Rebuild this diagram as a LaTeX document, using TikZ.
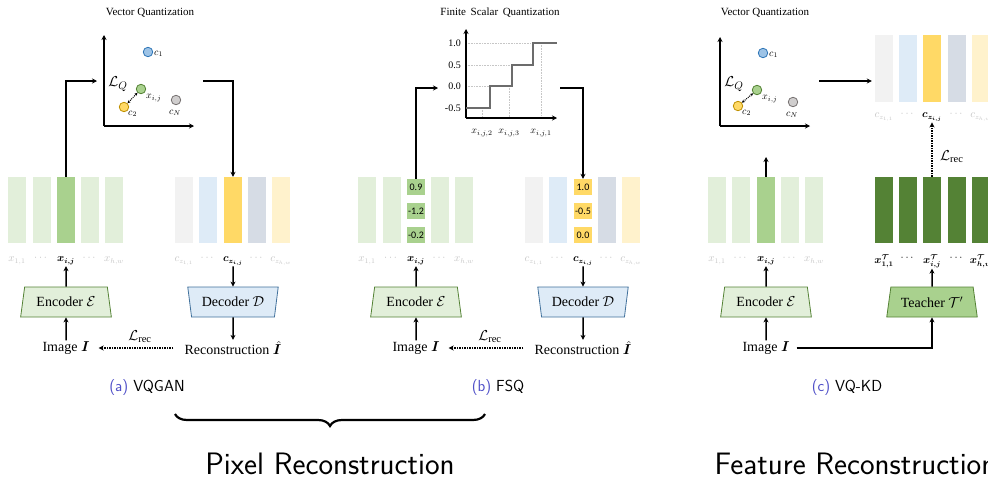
\documentclass[tikz,border=0pt]{standalone}
\usepackage{amsmath,bm}
\usepackage{fontspec}
\setmainfont{Liberation Serif}
\newfontfamily\numfont{Carlito}
\usetikzlibrary{arrows.meta,shapes.geometric,decorations.pathreplacing}
\definecolor{lgreen}{HTML}{E2EFDA}
\definecolor{mgreen}{HTML}{A9D18E}
\definecolor{dgreen}{HTML}{548235}
\definecolor{lgrayc}{HTML}{F2F2F2}
\definecolor{lbluec}{HTML}{DEEBF7}
\definecolor{yellowc}{HTML}{FFD966}
\definecolor{gbluec}{HTML}{D6DCE5}
\definecolor{lyellowc}{HTML}{FFF2CC}
\definecolor{decdraw}{HTML}{41719C}
\definecolor{lablight}{HTML}{C4C4C4}
\definecolor{capblue}{HTML}{5050C8}
\definecolor{cblue}{HTML}{9DC3E6}
\definecolor{cbluedk}{HTML}{2E75B6}
\definecolor{cyeldk}{HTML}{BF9000}
\definecolor{cgray}{HTML}{D0CECE}
\definecolor{cgraydk}{HTML}{767171}
\begin{document}
\begin{tikzpicture}[x=1pt,y=-1pt,
  arr/.style={line width=1.5pt,-{Stealth[length=5pt,width=5pt]}},
  axisline/.style={line width=1.5pt,-{Stealth[length=5pt,width=5pt]}},
  bar/.style={rectangle,minimum width=18pt,minimum height=66pt,inner sep=0pt},
  numbox/.style={rectangle,minimum width=18pt,minimum height=16pt,inner sep=0pt,fill=#1,font=\numfont\fontsize{10}{11}\selectfont},
  lbl/.style={font=\fontsize{10.5}{11}\selectfont,text=lablight,inner sep=1pt},
  lbldk/.style={font=\fontsize{10.5}{11}\selectfont,text=black,inner sep=1pt},
  enc/.style={trapezium,trapezium stretches=true,trapezium left angle=74,trapezium right angle=74,minimum width=91pt,minimum height=30pt,inner sep=0pt,line width=0.8pt,font=\fontsize{14}{16}\selectfont},
  dec/.style={enc,shape border rotate=180},
  io/.style={font=\fontsize{14}{16}\selectfont,inner sep=1pt},
  pt/.style={circle,minimum size=9.5pt,inner sep=0pt,line width=0.8pt},
  ptl/.style={font=\fontsize{10}{11}\selectfont,inner sep=0pt},
  ttl/.style={font=\fontsize{11}{13}\selectfont},
  loss/.style={font=\fontsize{15}{17}\selectfont,inner sep=0pt},
  capt/.style={font=\sffamily\fontsize{16}{18}\selectfont},
  bigtxt/.style={font=\sffamily\fontsize{31}{34}\selectfont},
  gridln/.style={densely dotted,draw=gray!45,line width=0.6pt},
  dotarr/.style={densely dotted,line width=1.5pt,-{Stealth[length=5pt,width=5pt]}}
]
\useasboundingbox (0,0) rectangle (988,477);

% ================= Panel (a) =================
\node[ttl] (atitle) at (150,13) {Vector Quantization};
\coordinate (aO) at (104,126);
\coordinate (aY) at (104,35);
\coordinate (aX) at (194,126);
\draw[axisline] (aO) -- (aY);
\draw[axisline] (aO) -- (aX);
\node[pt,fill=cblue,draw=cbluedk] (ac1) at (148,52) {};
\node[ptl,anchor=west] (ac1l) at (154,54) {$c_1$};
\node[pt,fill=mgreen,draw=dgreen] (axp) at (141,89) {};
\node[ptl,anchor=west] (axpl) at (146,98) {$x_{i,j}$};
\node[pt,fill=yellowc,draw=cyeldk] (ac2) at (124,107) {};
\node[ptl,anchor=west] (ac2l) at (128,114) {$c_2$};
\node[pt,fill=cgray,draw=cgraydk] (acN) at (176,100) {};
\node[ptl] (acNl) at (175,113) {$c_N$};
\node[loss] (aLQ) at (118,84) {$\mathcal{L}_Q$};
\draw[densely dotted,line width=1pt,{Stealth[length=3pt,width=3pt]}-{Stealth[length=3pt,width=3pt]}] (axp) -- (ac2);

\foreach \i/\x/\c in {1/17/lgreen,2/41.5/lgreen,3/66/mgreen,4/90/lgreen,5/114/lgreen}
  \node[bar,fill=\c] (ae\i) at (\x,210) {};
\foreach \i/\x/\c in {1/184/lgrayc,2/208/lbluec,3/233/yellowc,4/257/gbluec,5/281/lyellowc}
  \node[bar,fill=\c] (ad\i) at (\x,210) {};
\node[lbl] (ael1) at (17,261) {$x_{1,1}$};
\node[lbl] (ael2) at (41.5,258) {$\cdots$};
\node[lbldk] (ael3) at (66,261) {$\bm{x_{i,j}}$};
\node[lbl] (ael4) at (90,258) {$\cdots$};
\node[lbl] (ael5) at (114,261) {$x_{h,w}$};
\node[lbl] (adl1) at (184,261) {$c_{z_{1,1}}$};
\node[lbl] (adl2) at (208,258) {$\cdots$};
\node[lbldk] (adl3) at (233,261) {$\bm{c_{z_{i,j}}}$};
\node[lbl] (adl4) at (257,258) {$\cdots$};
\node[lbl] (adl5) at (281,261) {$c_{z_{h,w}}$};

\node[enc,fill=lgreen,draw=dgreen] (aenc) at (66,302) {Encoder $\mathcal{E}$};
\node[dec,fill=lbluec,draw=decdraw] (adec) at (233,302) {Decoder $\mathcal{D}$};
\node[io] (aimg) at (66,348) {Image $\bm{I}$};
\node[io] (arec) at (233,348) {Reconstruction $\hat{\bm{I}}$};

\coordinate (aL) at (97,81);
\coordinate (aR) at (203,81);
\draw[arr] (ae3.north) |- (aL);
\draw[arr] (aR) -| (ad3.north);
\draw[arr] (aenc.north) -- (ael3.south);
\draw[arr] (aimg.north) -- (aenc.south);
\draw[arr] (adl3.south) -- (adec.north);
\draw[arr] (adec.south) -- (arec.north);
\draw[dotarr] ([xshift=-10pt]arec.west) -- ([xshift=8pt]aimg.east);
\node[loss] (aLrec) at (140,337) {$\mathcal{L}_{\mathrm{rec}}$};
\node[capt] (acap) at (147,388) {\textcolor{capblue}{(a)} VQGAN};

% ================= Panel (b) =================
\node[ttl] (btitle) at (500,13) {Finite\, Scalar\, Quantization};
\coordinate (bO) at (466,118);
\coordinate (bY) at (466,29);
\coordinate (bX) at (557,118);
\draw[gridln] (466,43) -- (533,43);
\draw[gridln] (466,65) -- (512,65);
\draw[gridln] (466,86) -- (490,86);
\draw[gridln] (482,108) -- (482,118);
\draw[gridln] (509,86) -- (509,118);
\draw[gridln] (541,43) -- (541,118);
\draw[axisline] (bO) -- (bY);
\draw[axisline] (bO) -- (bX);
\draw[line width=1.2pt,draw=gray!85!black] (466,108) -- (490,108) -- (490,86) -- (512,86) -- (512,65) -- (533,65) -- (533,43) -- (557,43);
\foreach \v/\y in {1.0/43,0.5/65,0.0/86,-0.5/108}
  \node[font=\fontsize{10}{11}\selectfont,anchor=east,inner sep=0pt] (bt\y) at (461,\y) {\v};
\node[ptl] (bx2) at (482,133) {$x_{i,j,2}$};
\node[ptl] (bx3) at (509,133) {$x_{i,j,3}$};
\node[ptl] (bx1) at (541,133) {$x_{i,j,1}$};

\foreach \i/\x/\c in {1/367/lgreen,2/391.5/lgreen,4/440/lgreen,5/464/lgreen}
  \node[bar,fill=\c] (be\i) at (\x,210) {};
\node[numbox=mgreen] (be3a) at (416,187) {0.9};
\node[numbox=mgreen] (be3b) at (416,211) {-1.2};
\node[numbox=mgreen] (be3c) at (416,235) {-0.2};
\foreach \i/\x/\c in {1/534/lgrayc,2/558/lbluec,4/607/gbluec,5/631/lyellowc}
  \node[bar,fill=\c] (bd\i) at (\x,210) {};
\node[numbox=yellowc] (bd3a) at (583,187) {1.0};
\node[numbox=yellowc] (bd3b) at (583,211) {-0.5};
\node[numbox=yellowc] (bd3c) at (583,235) {0.0};
\node[lbl] (bel1) at (367,261) {$x_{1,1}$};
\node[lbl] (bel2) at (391.5,258) {$\cdots$};
\node[lbldk] (bel3) at (416,261) {$\bm{x_{i,j}}$};
\node[lbl] (bel4) at (440,258) {$\cdots$};
\node[lbl] (bel5) at (464,261) {$x_{h,w}$};
\node[lbl] (bdl1) at (534,261) {$c_{z_{1,1}}$};
\node[lbl] (bdl2) at (558,258) {$\cdots$};
\node[lbldk] (bdl3) at (583,261) {$\bm{c_{z_{i,j}}}$};
\node[lbl] (bdl4) at (607,258) {$\cdots$};
\node[lbl] (bdl5) at (631,261) {$c_{z_{h,w}}$};

\node[enc,fill=lgreen,draw=dgreen] (benc) at (416,302) {Encoder $\mathcal{E}$};
\node[dec,fill=lbluec,draw=decdraw] (bdec) at (583,302) {Decoder $\mathcal{D}$};
\node[io] (bimg) at (416,348) {Image $\bm{I}$};
\node[io] (brec) at (583,348) {Reconstruction $\hat{\bm{I}}$};

\coordinate (bL) at (438,88);
\coordinate (bR) at (560,88);
\draw[arr] (be3a.north) |- (bL);
\draw[arr] (bR) -| (bd3a.north);
\draw[arr] (benc.north) -- (bel3.south);
\draw[arr] (bimg.north) -- (benc.south);
\draw[arr] (bdl3.south) -- (bdec.north);
\draw[arr] (bdec.south) -- (brec.north);
\draw[dotarr] ([xshift=-10pt]brec.west) -- ([xshift=8pt]bimg.east);
\node[loss] (bLrec) at (490,337) {$\mathcal{L}_{\mathrm{rec}}$};
\node[capt] (bcap) at (498,388) {\textcolor{capblue}{(b)} FSQ};

% ================= Panel (c) =================
\node[ttl] (ctitle) at (765,13) {Vector Quantization};
\coordinate (cO) at (720,126);
\coordinate (cY) at (720,37);
\coordinate (cX) at (810,126);
\draw[axisline] (cO) -- (cY);
\draw[axisline] (cO) -- (cX);
\node[pt,fill=cblue,draw=cbluedk] (cc1) at (763,53) {};
\node[ptl,anchor=west] (cc1l) at (769,55) {$c_1$};
\node[pt,fill=mgreen,draw=dgreen] (cxp) at (757,90) {};
\node[ptl,anchor=west] (cxpl) at (762,99) {$x_{i,j}$};
\node[pt,fill=yellowc,draw=cyeldk] (cc2) at (738,106) {};
\node[ptl,anchor=west] (cc2l) at (742,113) {$c_2$};
\node[pt,fill=cgray,draw=cgraydk] (ccN) at (793,102) {};
\node[ptl] (ccNl) at (792,115) {$c_N$};
\node[loss] (cLQ) at (734,84) {$\mathcal{L}_Q$};
\draw[densely dotted,line width=1pt,{Stealth[length=3pt,width=3pt]}-{Stealth[length=3pt,width=3pt]}] (cxp) -- (cc2);

\foreach \i/\x/\c in {1/884/lgrayc,2/908/lbluec,3/932/yellowc,4/957/gbluec,5/981/lyellowc}
  \node[bar,fill=\c,minimum height=67pt] (cq\i) at (\x,68.5) {};
\node[lbl] (cql1) at (884,117) {$c_{z_{1,1}}$};
\node[lbl] (cql2) at (908,114) {$\cdots$};
\node[lbldk] (cql3) at (932,117) {$\bm{c_{z_{i,j}}}$};
\node[lbl] (cql4) at (957,114) {$\cdots$};
\node[lbl] (cql5) at (981,117) {$c_{z_{h,w}}$};
\coordinate (cR) at (819,81);
\draw[arr] (cR) -- ([xshift=-3pt]cq1.west |- cR);

\foreach \i/\x/\c in {1/717/lgreen,2/741/lgreen,3/766/mgreen,4/790/lgreen,5/814/lgreen}
  \node[bar,fill=\c] (ce\i) at (\x,210) {};
\foreach \i/\x in {1/884,2/908,3/932,4/957,5/981}
  \node[bar,fill=dgreen] (ct\i) at (\x,210) {};
\node[lbl] (cel1) at (717,261) {$x_{1,1}$};
\node[lbl] (cel2) at (741,258) {$\cdots$};
\node[lbldk] (cel3) at (766,261) {$\bm{x_{i,j}}$};
\node[lbl] (cel4) at (790,258) {$\cdots$};
\node[lbl] (cel5) at (814,261) {$x_{h,w}$};
\node[lbldk] (ctl1) at (884,261) {$\bm{x^{\mathcal{T}}_{1,1}}$};
\node[lbldk] (ctl2) at (908,258) {$\cdots$};
\node[lbldk] (ctl3) at (932,261) {$\bm{x^{\mathcal{T}}_{i,j}}$};
\node[lbldk] (ctl4) at (957,258) {$\cdots$};
\node[lbldk] (ctl5) at (981,261) {$\bm{x^{\mathcal{T}}_{h,w}}$};

\node[enc,fill=lgreen,draw=dgreen] (cenc) at (766,302) {Encoder $\mathcal{E}$};
\node[enc,fill=mgreen,draw=dgreen] (cteach) at (932,302) {Teacher $\mathcal{T}'$};
\node[io] (cimg) at (766,348) {Image $\bm{I}$};

\coordinate (cU) at (766,157);
\draw[arr] (ce3.north) -- (cU);
\draw[dotarr] (ct3.north) -- (cql3.south);
\node[loss,anchor=west] (cLrec) at (940,157) {$\mathcal{L}_{\mathrm{rec}}$};
\draw[arr] (cenc.north) -- (cel3.south);
\draw[arr] (cimg.north) -- (cenc.south);
\draw[arr] (cteach.north) -- (ctl3.south);
\draw[arr] ([xshift=6pt]cimg.east) -| (cteach.south);
\node[capt] (ccap) at (847,388) {\textcolor{capblue}{(c)} VQ-KD};

% ================= Bottom =================
\coordinate (brL) at (175,414);
\coordinate (brR) at (485,414);
\draw[line width=2.2pt,decorate,decoration={brace,amplitude=12pt,mirror}] (brL) -- (brR);
\node[bigtxt] (pix) at (330,464) {Pixel Reconstruction};
\node[bigtxt,anchor=west] (feat) at (711,464) {Feature Reconstruction};
\end{tikzpicture}
\end{document}
